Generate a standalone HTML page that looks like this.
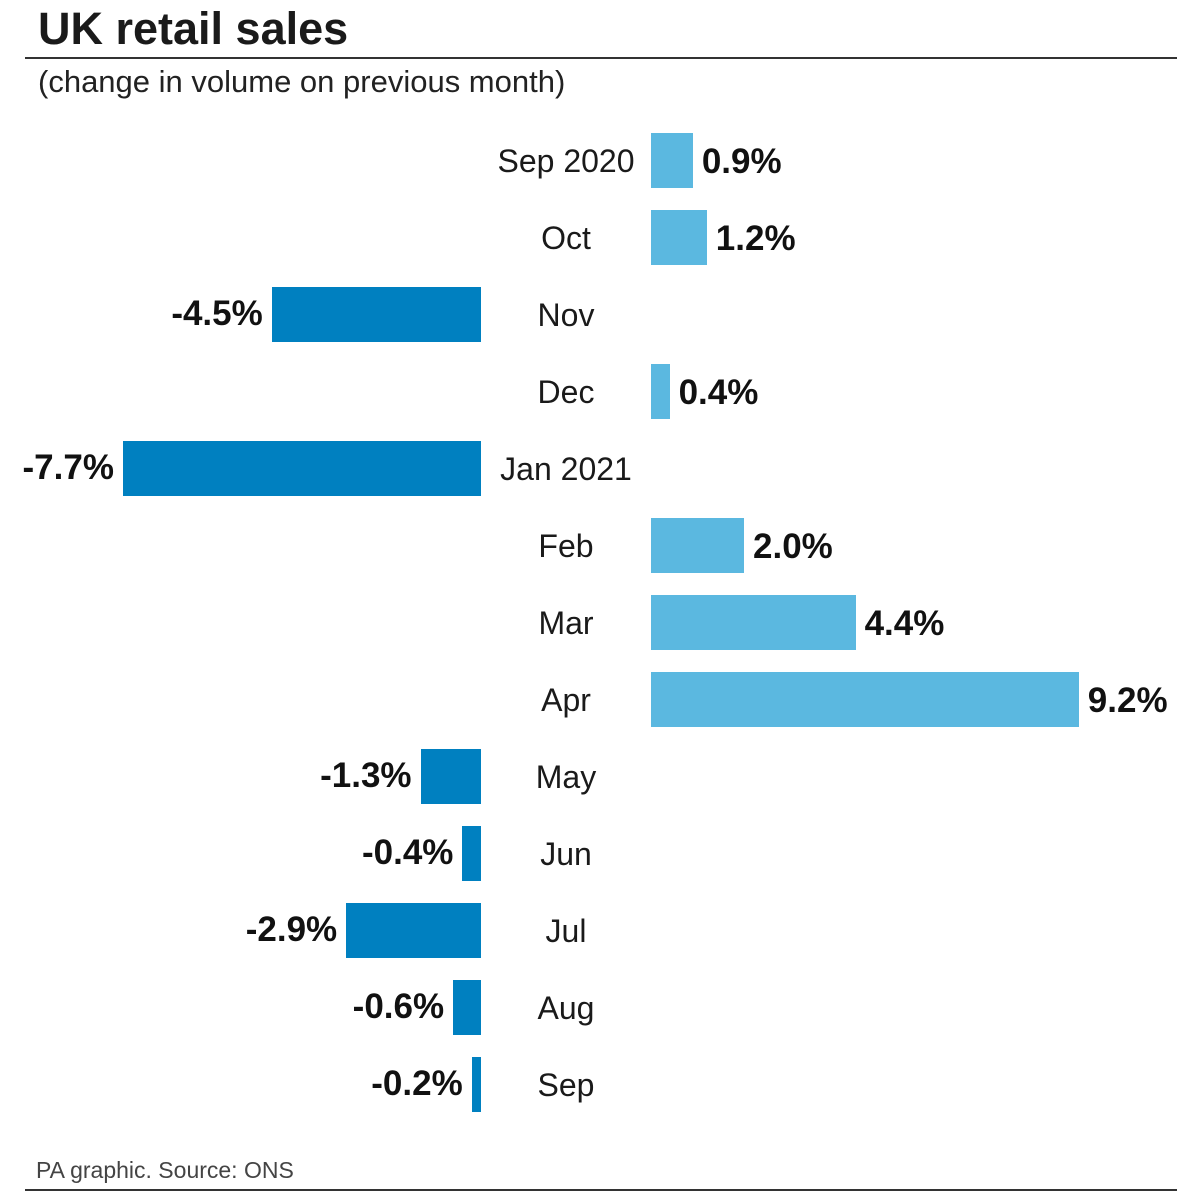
<!DOCTYPE html>
<html><head><meta charset="utf-8"><style>
body{margin:0;width:1200px;height:1200px;background:#fff;font-family:"Liberation Sans",sans-serif;position:relative;overflow:hidden}
.a{position:absolute;white-space:nowrap}
.t{left:38px;top:3px;font-size:45px;font-weight:bold;color:#1a1a1a;letter-spacing:0px}
.s{left:38px;top:64px;font-size:31px;color:#222;letter-spacing:0px}
.l{position:absolute;left:25px;width:1152px;height:2px;background:#333}
.m{font-size:32px;color:#1a1a1a;width:200px;left:466px;text-align:center;line-height:55px}
.b{position:absolute;height:55px}
.p{background:#5bb8e0}.n{background:#0080c0}
.v{font-size:35px;font-weight:bold;color:#111;line-height:55px;letter-spacing:0px}
.f{left:36px;top:1157px;font-size:23px;color:#444;letter-spacing:0px}
</style></head><body>
<div class="a t">UK retail sales</div>
<div class="l" style="top:57px"></div>
<div class="a s">(change in volume on previous month)</div>
<div id="c"></div>
<div class="a f">PA graphic. Source: ONS</div>
<div class="l" style="top:1189px"></div>
<script>
var d=[["Sep 2020",0.9],["Oct",1.2],["Nov",-4.5],["Dec",0.4],["Jan 2021",-7.7],["Feb",2.0],["Mar",4.4],["Apr",9.2],["May",-1.3],["Jun",-0.4],["Jul",-2.9],["Aug",-0.6],["Sep",-0.2]];
var h="",k=46.5;
d.forEach(function(r,i){var y=133+77*i,w=Math.abs(r[1])*k,t=r[1].toFixed(1)+"%";
h+='<div class="a m" style="top:'+(y+1)+'px">'+r[0]+'</div>';
if(r[1]>0){h+='<div class="b p" style="left:651px;top:'+y+'px;width:'+w+'px"></div><div class="a v" style="left:'+(651+w+9)+'px;top:'+(y+1)+'px">'+t+'</div>';}
else{h+='<div class="b n" style="left:'+(481-w)+'px;top:'+y+'px;width:'+w+'px"></div><div class="a v" style="right:'+(1200-(481-w)+9)+'px;top:'+(y-1)+'px">'+t+'</div>';}
});
document.getElementById("c").innerHTML=h;
</script>
</body></html>
